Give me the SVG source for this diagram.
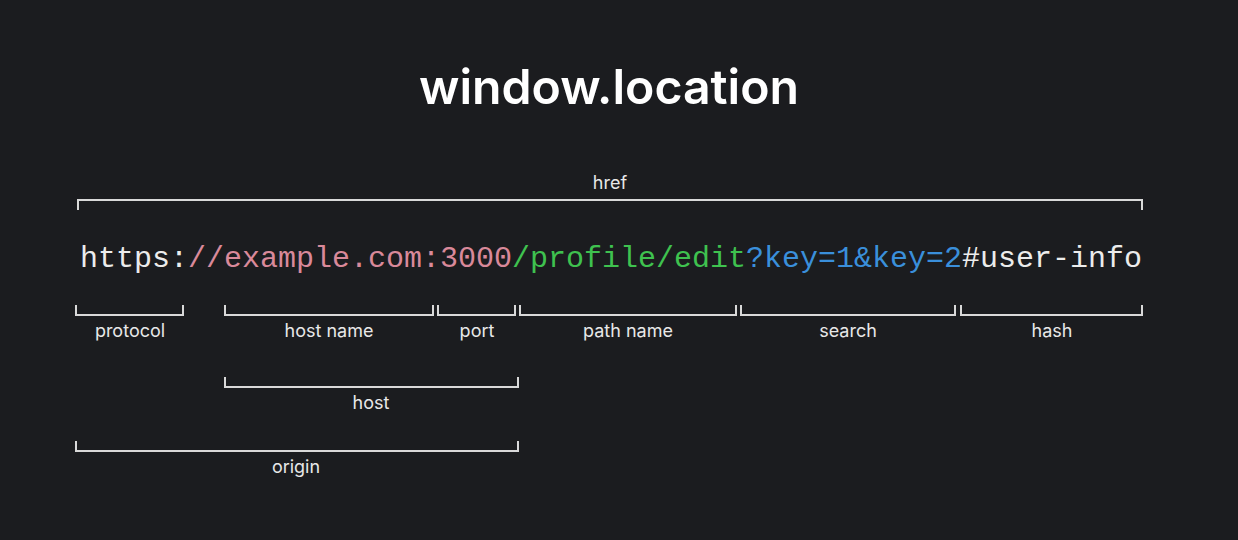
<svg xmlns="http://www.w3.org/2000/svg" width="1238" height="540" viewBox="0 0 1238 540">
<style>
.lbl{font-family:Inter,"Noto Sans",sans-serif;font-size:18px;fill:#e8e8e8;text-anchor:middle}
.br{fill:none;stroke:#d9d9d9;stroke-width:2}
.url{font-family:"Liberation Mono","DejaVu Sans Mono",monospace;font-size:30px}
</style>
<rect width="1238" height="540" fill="#1b1c1f"/>
<g id="title"><text x="609" y="104" font-family="Inter,sans-serif" font-weight="600" font-size="48" fill="#ffffff" text-anchor="middle" textLength="380" lengthAdjust="spacingAndGlyphs">window.location</text></g>
<g id="url"><text class="url" x="80" y="267" textLength="1062" lengthAdjust="spacing"><tspan fill="#ececec">https:</tspan><tspan fill="#d9899a">//example.com:3000</tspan><tspan fill="#3fc24f">/profile/edit</tspan><tspan fill="#3a8fdb">?key=1&amp;key=2</tspan><tspan fill="#ececec">#user-info</tspan></text></g>
<g id="connectors">
<path class="br" d="M78,210V200H1142V210"/>
<path class="br" d="M76,305V315H183V305"/>
<path class="br" d="M225,305V315H433V305"/>
<path class="br" d="M438,305V315H515V305"/>
<path class="br" d="M520,305V315H736V305"/>
<path class="br" d="M741,305V315H955V305"/>
<path class="br" d="M961,305V315H1142V305"/>
<path class="br" d="M225,377V387H518V377"/>
<path class="br" d="M76,441V451H518V441"/>
</g>
<g id="href"><text class="lbl" x="610" y="189">href</text></g>
<g id="protocol"><text class="lbl" x="130" y="337">protocol</text></g>
<g id="hostname"><text class="lbl" x="329" y="337">host name</text></g>
<g id="port"><text class="lbl" x="477" y="337">port</text></g>
<g id="pathname"><text class="lbl" x="628" y="337">path name</text></g>
<g id="search"><text class="lbl" x="848" y="337">search</text></g>
<g id="hash"><text class="lbl" x="1052" y="337">hash</text></g>
<g id="host"><text class="lbl" x="371" y="409">host</text></g>
<g id="origin"><text class="lbl" x="296" y="473">origin</text></g>
</svg>
